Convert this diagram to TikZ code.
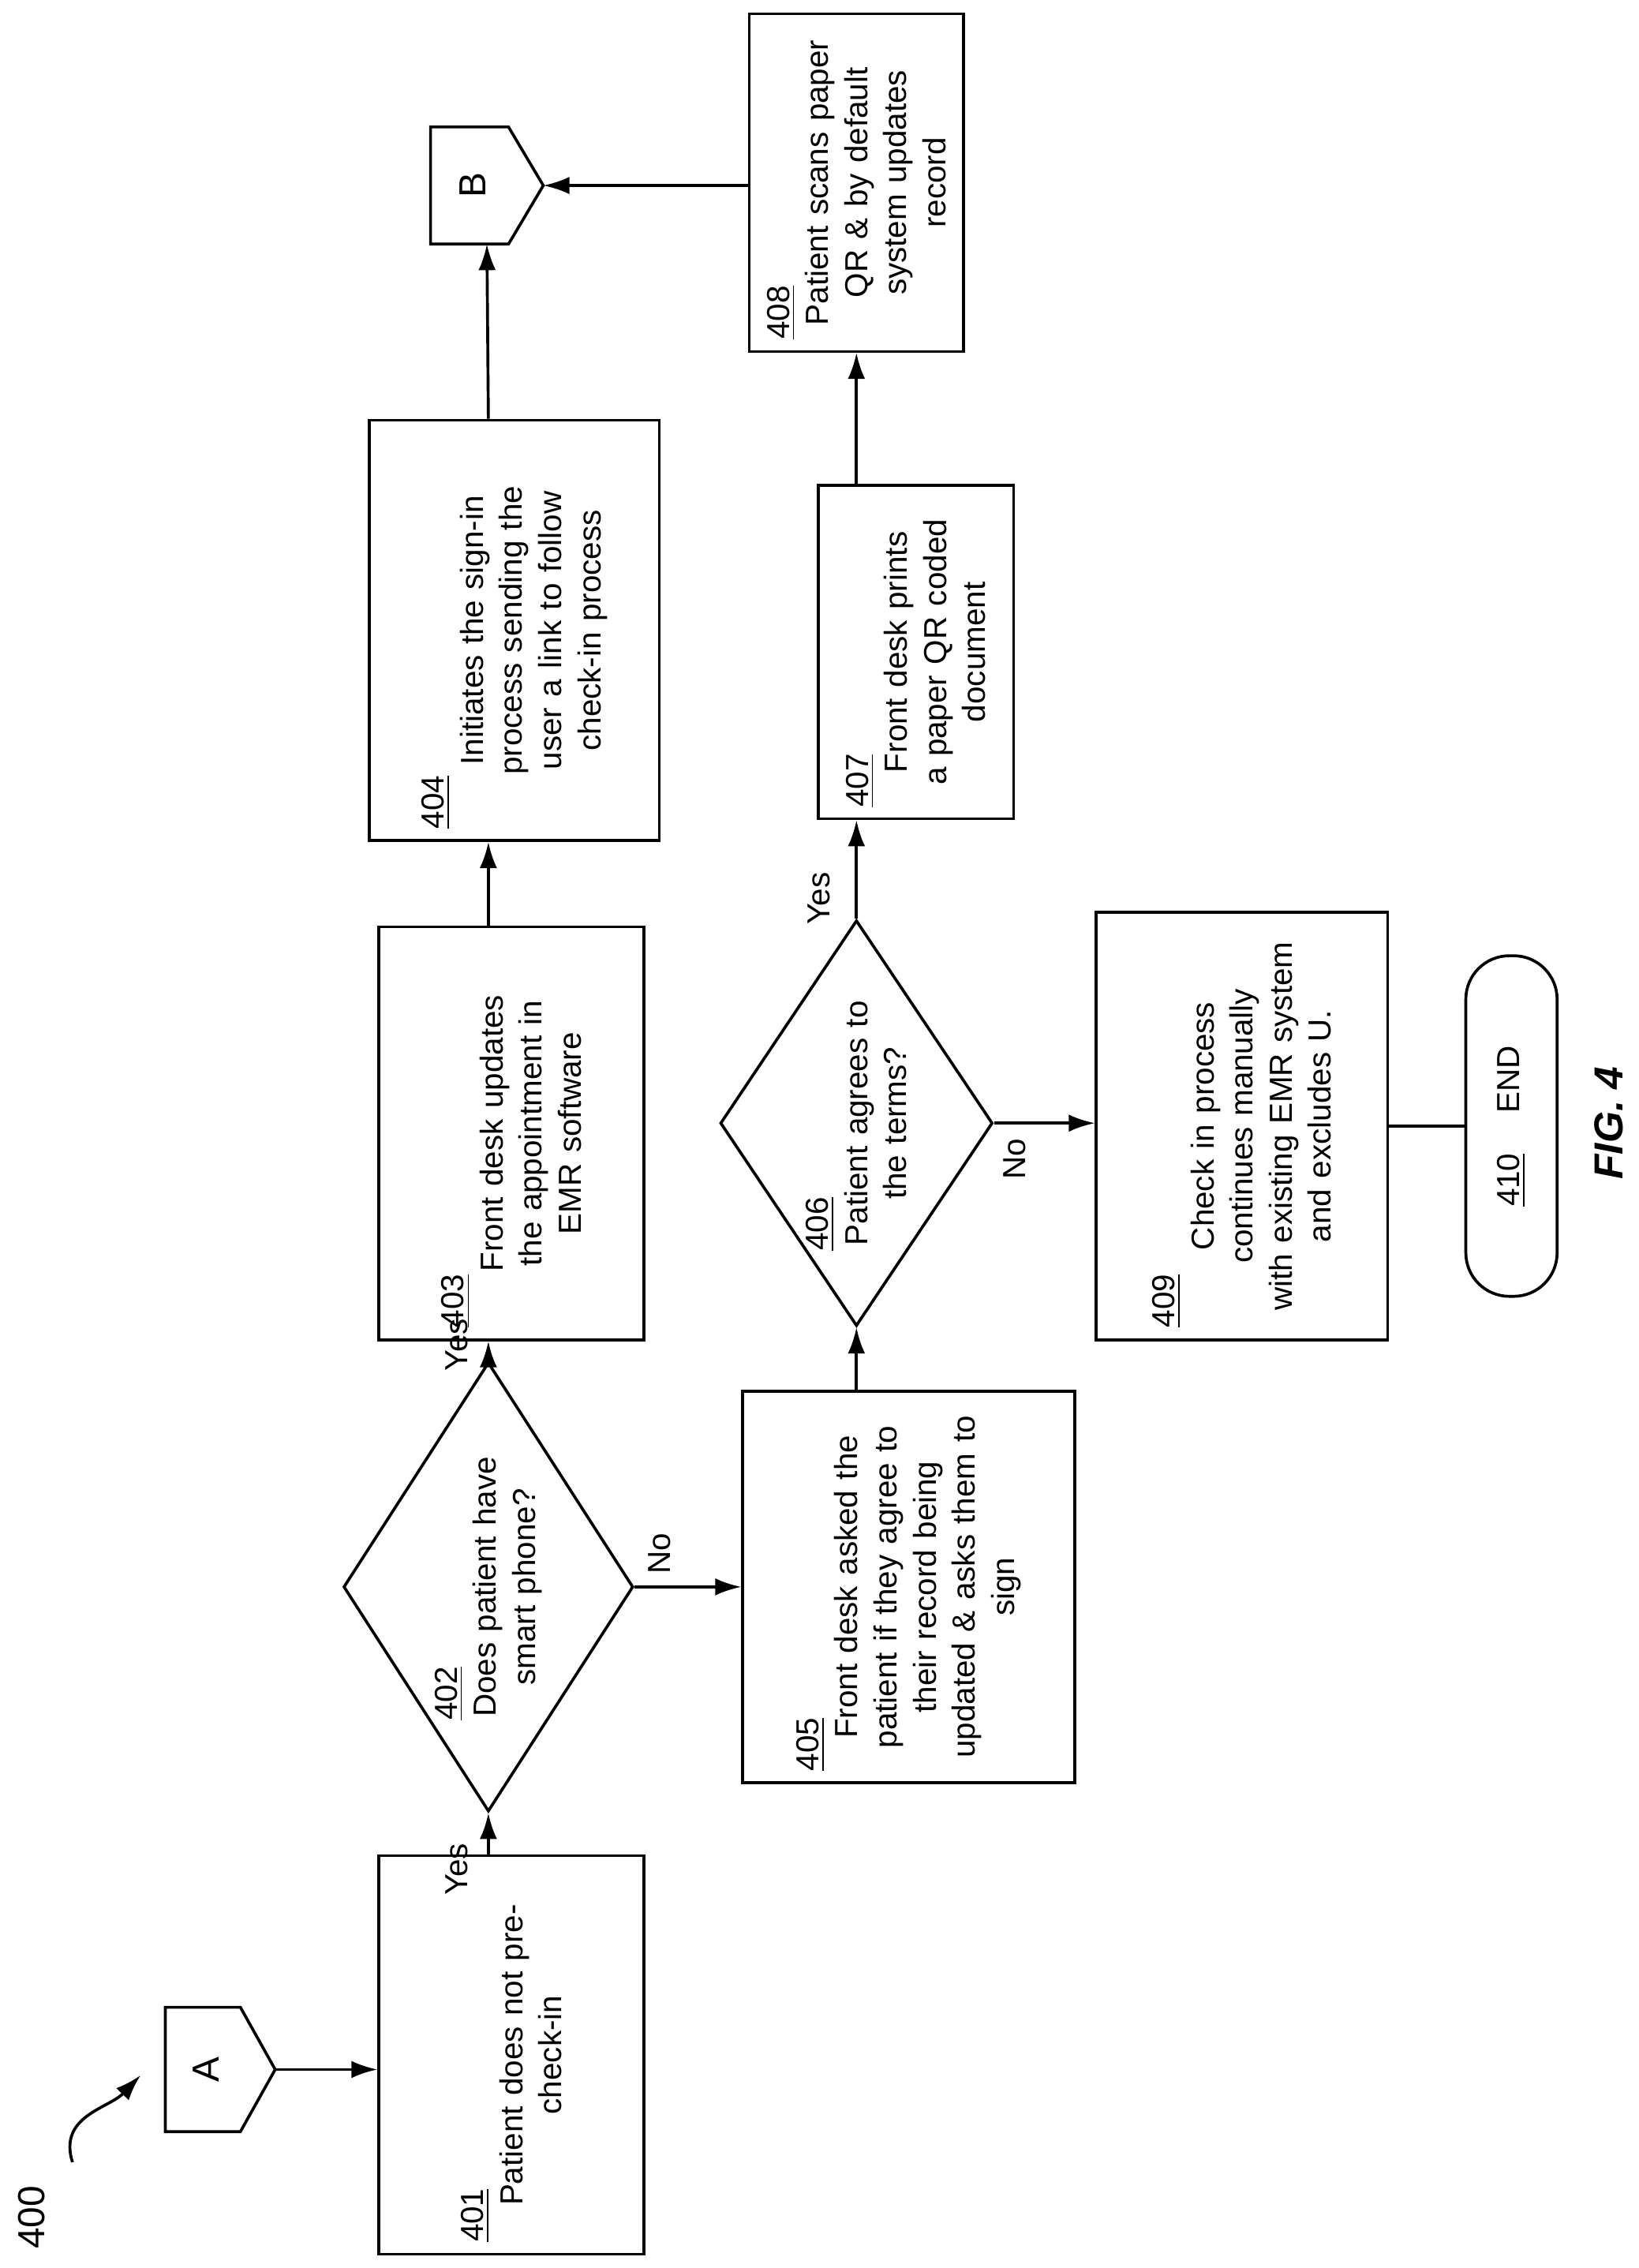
\documentclass[tikz,border=0pt]{standalone}
\usepackage{fontspec}
\setmainfont{Liberation Sans}
\usetikzlibrary{shapes.geometric,arrows.meta}
\tikzset{box/.style={draw, line width=1pt, rotate=90, align=center, inner sep=3pt,
    font=\fontsize{11}{13.5}\selectfont}}
\tikzset{dia/.style={box, diamond, inner sep=0pt}}
\tikzset{conn/.style={inner sep=0pt, font=\fontsize{13}{15}\selectfont}}
\tikzset{connline/.style={line width=1pt, line join=miter}}
\tikzset{flow/.style={line width=1pt, -{Latex[length=9pt,width=6pt]}}}
\tikzset{lbl/.style={rotate=90, font=\fontsize{11}{13}\selectfont}}
\newcommand{\numl}[1]{\makebox[\linewidth][l]{\underline{#1}}\\}
\begin{document}
\begin{tikzpicture}[x=0.5pt, y=-0.5pt]
        \useasboundingbox (0,0) rectangle (1131,1565);

        \node[conn, minimum width=37.5pt, minimum height=42.5pt] (A) at (152,1428) {};
        \draw [connline] (A.north west) -- ([xshift=-12pt]A.north east) -- (A.east)
            -- ([xshift=-12pt]A.south east) -- (A.south west) -- cycle;
        \node[conn, rotate=90] (Atxt) at ([xshift=-5pt]A.center) {A};
        \node[conn, minimum width=38.5pt, minimum height=40pt] (B) at (336,128) {};
        \draw [connline] (B.north west) -- ([xshift=-12pt]B.north east) -- (B.east)
            -- ([xshift=-12pt]B.south east) -- (B.south west) -- cycle;
        \node[conn, rotate=90] (Btxt) at ([xshift=-5pt]B.center) {B};

        \node[box, minimum width=137.5pt, minimum height=91.5pt, text width=129pt] (N401) at (353,1418)
        {\numl{401}Patient does not pre-\\check-in\\[34pt]};
        \node[dia, aspect=1.55, minimum width=155pt, minimum height=100pt, text width=92pt] (N402) at (337,1095)
        {\numl{402}\hspace{0pt}Does patient have\\smart phone?};
        \node[box, minimum width=142.5pt, minimum height=91.5pt, text width=134pt] (N403) at (353,782)
        {\numl{403}Front desk updates\\the appointment in\\EMR software\\[24pt]};
        \node[box, minimum width=145pt, minimum height=100pt, text width=137pt] (N404) at (355,435)
        {\numl{404}Initiates the sign-in\\process sending the\\user a link to follow\\check-in process};
        \node[box, minimum width=135pt, minimum height=114.5pt, text width=127pt] (N405) at (627,1095)
        {\numl{405}Front desk asked the\\patient if they agree to\\their record being\\updated \& asks them to\\sign};
        \node[dia, aspect=1.49, minimum width=140pt, minimum height=94pt, text width=88pt] (N406) at (591,775)
        {\numl{406}\hspace{0pt}Patient agrees to\\the terms?};
        \node[box, minimum width=115pt, minimum height=67.5pt, text width=107pt] (N407) at (632,450)
        {\numl{407}Front desk prints\\a paper QR coded\\document};
        \node[box, minimum width=116.5pt, minimum height=74pt, text width=108pt] (N408) at (591,126)
        {\numl{408}Patient scans paper\\QR \& by default\\system updates\\record};
        \node[box, minimum width=147.5pt, minimum height=100.5pt, text width=139pt] (N409) at (857,777)
        {\numl{409}Check in process\\continues manually\\with existing EMR system\\and excludes U.};
        \node[box, rounded corners=15pt, minimum width=117.5pt, minimum height=31.5pt] (N410) at (1043,777)
        {\underline{410}\hspace{14pt}END};

        \node[lbl, font=\fontsize{14}{16}\selectfont\bfseries\itshape] (fig) at (1110,775) {FIG. 4};
        \node[lbl, font=\fontsize{13}{15}\selectfont] (n400) at (22,1530) {400};
        \coordinate (c400a) at (50,1492);
        \coordinate (c400b) at (97,1432);

        \draw [flow] (A.east) -- (A.east -| N401.north);
        \draw [flow] (N402.west |- N401.east) -- (N402.west);
        \draw [flow] (N402.east) -- (N402.east |- N403.west);
        \draw [flow] (N403.east -| N402.east) -- (N402.east |- N404.west);
        \draw [flow] (N404.east -| N402.east) -- (B.south);
        \draw [flow] (N402.south) -- (N402.south -| N405.north);
        \draw [flow] (N406.west |- N405.east) -- (N406.west);
        \draw [flow] (N406.east) -- (N406.east |- N407.west);
        \draw [flow] (N406.east |- N407.east) -- (N406.east |- N408.west);
        \draw [flow] (B.east -| N408.north) -- (B.east);
        \draw [flow] (N406.south) -- (N406.south -| N409.north);
        \draw [line width=1pt] (N409.south) -- (N410.north);
        \draw [line width=1pt, -{Latex[length=9pt,width=6pt]}] (c400a) .. controls (40,1460) and (75,1455) .. (c400b);

        \node[lbl] (y1) at (315,1290) {Yes};
        \node[lbl] (y2) at (315,928) {Yes};
        \node[lbl] (y3) at (565,620) {Yes};
        \node[lbl] (no1) at (455,1072) {No};
        \node[lbl] (no2) at (700,800) {No};
    \end{tikzpicture}
\end{document}
